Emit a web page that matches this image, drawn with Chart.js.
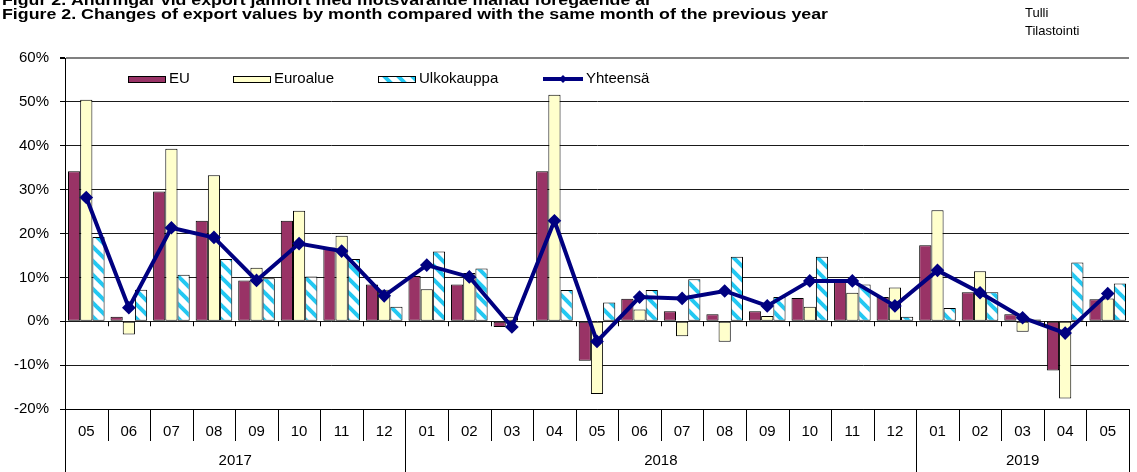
<!DOCTYPE html>
<html>
<head>
<meta charset="utf-8">
<script src="https://cdn.jsdelivr.net/npm/chart.js@4.4.0/dist/chart.umd.min.js"></script>
<style>
  html, body { margin: 0; padding: 0; background: #fff; }
  #wrap { width: 1137px; height: 472px; position: relative; }
</style>
</head>
<body>
<div id="wrap"><canvas id="vientiChart"></canvas></div>
<script>
// Kuukaudet ja vuodet
var months = ['05','06','07','08','09','10','11','12',
              '01','02','03','04','05','06','07','08','09','10','11','12',
              '01','02','03','04','05'];
var years = ['2017', '2018', '2019'];
var yearSpans = [8, 12, 5];

// Muutos % edellisvuoden vastaavasta kuukaudesta
var eu        = [34.2, 1.0, 29.6, 22.9, 9.3, 22.9, 16.8, 8.4, 10.3, 8.4, -1.3, 34.2, -9.0, 5.1, 2.3, 1.6, 2.3, 5.3, 9.3, 5.5, 17.3, 6.6, 1.6, -11.2, 5.0];
var euroalue  = [50.5, -3.0, 39.3, 33.3, 12.2, 25.2, 19.5, 7.2, 7.3, 11.0, 1.0, 51.6, -16.6, 2.7, -3.4, -4.7, 1.2, 3.3, 6.5, 7.7, 25.3, 11.4, -2.4, -17.6, 5.2];
var ulkokauppa = [19.2, 7.2, 10.6, 14.2, 9.8, 10.2, 14.2, 3.3, 15.9, 12.0, -0.2, 7.1, 4.3, 7.1, 9.6, 14.7, 5.5, 14.7, 8.4, 1.0, 3.0, 6.6, 0.4, 13.4, 8.6];
var yhteensa  = [28.2, 3.1, 21.3, 19.1, 9.3, 17.7, 16.0, 5.8, 12.8, 10.1, -1.3, 22.9, -4.6, 5.5, 5.2, 6.9, 3.5, 9.2, 9.2, 3.5, 11.6, 6.5, 0.8, -2.7, 6.3];

var yTicks = [-20, -10, 0, 10, 20, 30, 40, 50, 60];

Chart.defaults.font.family = "'Liberation Sans', Arial, sans-serif";
Chart.defaults.color = '#000';

// vinoraidoitus Ulkokaupalle
function makeHatch() {
    var c = document.createElement('canvas');
    c.width = 14; c.height = 14;
    var g = c.getContext('2d');
    g.fillStyle = '#fff';
    g.fillRect(0, 0, 14, 14);
    g.strokeStyle = '#22c8f2';
    g.lineWidth = 4;
    [-14, 0, 14].forEach(function (o) {
        g.beginPath();
        g.moveTo(o - 2, -2);
        g.lineTo(o + 16, 16);
        g.stroke();
    });
    return g.createPattern(c, 'repeat');
}
var hatch = makeHatch();

// otsikot, selite ja kaksitasoinen x-akseli
var decorPlugin = {
    id: 'decor',
    afterDraw: function (chart) {
        var ctx = chart.ctx;
        var area = chart.chartArea;
        var xs = chart.scales.x;
        var ys = chart.scales.y;
        var step = xs.getPixelForValue(1) - xs.getPixelForValue(0);
        var y0 = ys.getPixelForValue(0);

        ctx.save();
        ctx.fillStyle = '#000';
        ctx.textBaseline = 'alphabetic';
        ctx.textAlign = 'left';

        function stretched(text, x, y, font, w) {
            ctx.font = font;
            var m = ctx.measureText(text).width;
            ctx.save();
            ctx.translate(x, y);
            ctx.scale(w / m, 1);
            ctx.fillText(text, 0, 0);
            ctx.restore();
        }
        stretched('Figur 2. Ändringar vid export jämfört med motsvarande månad föregående år', 2, 5, "bold 15px 'Liberation Sans', Arial", 650);
        stretched('Figure 2. Changes of export values by month compared with the same month of the previous year', 2, 19, "bold 15px 'Liberation Sans', Arial", 826);

        ctx.font = "13px 'Liberation Sans', Arial";
        ctx.fillText('Tulli', 1025, 17);
        ctx.fillText('Tilastointi', 1025, 35);

        // nolla-akselin väkäset
        ctx.strokeStyle = '#000';
        ctx.lineWidth = 1;
        ctx.beginPath();
        for (var i = 1; i < months.length; i++) {
            var bx = Math.round(xs.getPixelForValue(i) - step / 2) + 0.5;
            ctx.moveTo(bx, y0);
            ctx.lineTo(bx, y0 + 5);
        }
        ctx.stroke();

        // kuukausi- ja vuosierottimet
        var yearStarts = [0];
        yearSpans.forEach(function (n, k) { yearStarts.push(yearStarts[k] + n); });
        ctx.beginPath();
        for (var j = 0; j <= months.length; j++) {
            var sx = Math.round(xs.getPixelForValue(j) - step / 2) + 0.5;
            var full = yearStarts.indexOf(j) >= 0;
            ctx.moveTo(sx, area.bottom);
            ctx.lineTo(sx, full ? chart.height : area.bottom + 32);
        }
        ctx.stroke();

        ctx.font = "15px 'Liberation Sans', Arial";
        ctx.textAlign = 'center';
        ctx.textBaseline = 'middle';
        years.forEach(function (yr, k) {
            var a = xs.getPixelForValue(yearStarts[k]) - step / 2;
            var b = xs.getPixelForValue(yearStarts[k + 1] - 1) + step / 2;
            ctx.fillText(yr, (a + b) / 2, 461);
        });

        // selite
        ctx.textAlign = 'left';
        ctx.font = "15px 'Liberation Sans', Arial";
        var ly = 79;
        var items = [
            { x: 128, fill: '#993366', text: chart.data.datasets[0].label },
            { x: 233, fill: '#ffffcc', text: chart.data.datasets[1].label },
            { x: 378, fill: hatch, text: chart.data.datasets[2].label }
        ];
        items.forEach(function (it) {
            ctx.fillStyle = it.fill;
            ctx.fillRect(it.x, ly - 3, 38, 7);
            ctx.strokeStyle = '#000';
            ctx.strokeRect(it.x + 0.5, ly - 2.5, 37, 6);
            ctx.fillStyle = '#000';
            ctx.fillText(it.text, it.x + 41, ly);
        });
        ctx.strokeStyle = '#000080';
        ctx.lineWidth = 4;
        ctx.beginPath();
        ctx.moveTo(543, ly);
        ctx.lineTo(583, ly);
        ctx.stroke();
        ctx.fillStyle = '#000080';
        ctx.beginPath();
        ctx.moveTo(563, ly - 4); ctx.lineTo(567, ly); ctx.lineTo(563, ly + 4); ctx.lineTo(559, ly);
        ctx.closePath();
        ctx.fill();
        ctx.fillStyle = '#000';
        ctx.fillText(chart.data.datasets[3].label, 586, ly);

        ctx.restore();
    }
};

var ctx = document.getElementById('vientiChart').getContext('2d');
var vientiChart = new Chart(ctx, {
    type: 'bar',
    data: {
        labels: months,
        datasets: [
            { label: 'EU', data: eu, backgroundColor: '#993366', borderColor: '#000', borderWidth: 1, borderSkipped: false, order: 1 },
            { label: 'Euroalue', data: euroalue, backgroundColor: '#ffffcc', borderColor: '#000', borderWidth: 1, borderSkipped: false, order: 1 },
            { label: 'Ulkokauppa', data: ulkokauppa, backgroundColor: hatch, borderColor: '#000', borderWidth: 1, borderSkipped: false, order: 1 },
            {
                type: 'line', label: 'Yhteensä', data: yhteensa, order: 0,
                borderColor: '#000080', backgroundColor: '#000080', borderWidth: 4, tension: 0,
                pointStyle: 'rectRot', pointRadius: 4, pointBackgroundColor: '#000080', pointBorderColor: '#000080'
            }
        ]
    },
    options: {
        responsive: true,
        maintainAspectRatio: false,
        animation: false,
        layout: { padding: { top: 58, left: 0, right: 0, bottom: 0 } },
        datasets: { bar: { categoryPercentage: 0.86, barPercentage: 1.0 } },
        plugins: { legend: { display: false }, tooltip: { enabled: false } },
        scales: {
            x: {
                offset: true,
                grid: { display: true, drawOnChartArea: false, drawTicks: false },
                border: { display: true, color: '#000' },
                ticks: { padding: 14, font: { size: 15 }, maxRotation: 0, autoSkip: false },
                afterFit: function (s) { s.height = 63; }
            },
            y: {
                min: -20,
                max: 60,
                afterBuildTicks: function (s) { s.ticks = yTicks.map(function (v) { return { value: v }; }); },
                grid: {
                    color: function (c) { return c.tick && c.tick.value === 60 ? '#808080' : '#1a1a1a'; },
                    lineWidth: function (c) { return c.tick && c.tick.value === 60 ? 2 : 1; },
                    tickLength: 5,
                    tickColor: '#000'
                },
                border: { display: true, color: '#000' },
                ticks: { padding: 11, font: { size: 15 }, callback: function (v) { return v + '%'; } },
                afterFit: function (s) { s.width = 65; }
            }
        }
    },
    plugins: [decorPlugin]
});
</script>
</body>
</html>
